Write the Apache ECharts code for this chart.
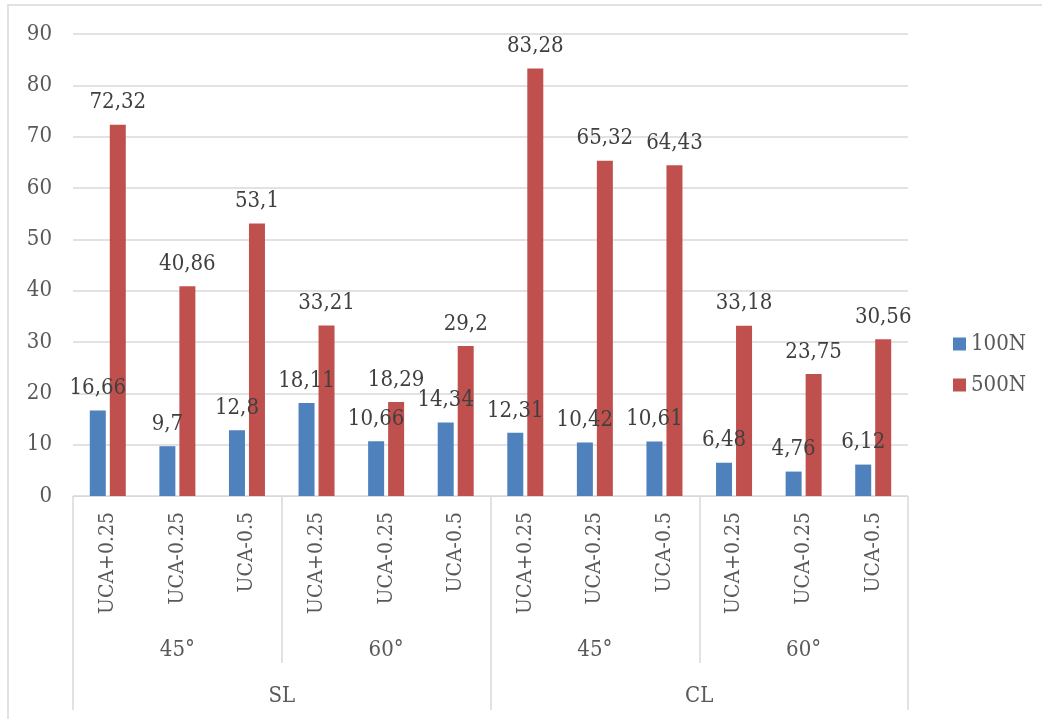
<!DOCTYPE html>
<html>
<head>
<meta charset="utf-8">
<script src="https://cdn.jsdelivr.net/npm/echarts@6/dist/echarts.min.js"></script>
<style>
  html, body { margin: 0; padding: 0; background: #fff; }
  #chart { width: 1042px; height: 719px; }
</style>
</head>
<body>
<div id="chart"></div>
<script>
// Sub-categories (innermost level of the x axis)
const cases = ['UCA+0.25', 'UCA-0.25', 'UCA-0.5', 'UCA+0.25', 'UCA-0.25', 'UCA-0.5',
               'UCA+0.25', 'UCA-0.25', 'UCA-0.5', 'UCA+0.25', 'UCA-0.25', 'UCA-0.5'];
// Middle level: angle groups
const angles = ['45°', '60°', '45°', '60°'];
// Outer level: SL / CL
const layers = ['SL', 'CL'];

const seriesNames = ['100N', '500N'];
const load100 = [16.66, 9.7, 12.8, 18.11, 10.66, 14.34, 12.31, 10.42, 10.61, 6.48, 4.76, 6.12];
const load500 = [72.32, 40.86, 53.1, 33.21, 18.29, 29.2, 83.28, 65.32, 64.43, 33.18, 23.75, 30.56];

const yTicks = { min: 0, max: 90, interval: 10 };

const FONT = '"DejaVu Serif Condensed", "Liberation Serif", serif';
const FS = 22;      // numbers, legend, group names
const FS_CAT = 21;  // rotated case names
const axisGray = '#d9d9d9';
const textGray = '#595959';

const chart = echarts.init(document.getElementById('chart'), null, { renderer: 'canvas' });

const labelCfg = {
  show: true,
  position: 'top',
  distance: 11,
  fontFamily: FONT,
  fontSize: FS,
  color: '#404040',
  formatter: p => String(p.value).replace('.', ',')
};

chart.setOption({
  animation: false,
  backgroundColor: '#fff',
  graphic: [{
    type: 'rect',
    shape: { x: 8, y: 5, width: 1040, height: 720 },
    style: { fill: 'none', stroke: axisGray, lineWidth: 1.5 },
    silent: true
  }],
  grid: { left: 73, right: 134, top: 34, bottom: 223 },
  legend: {
    orient: 'vertical',
    left: 948,
    top: 328,
    itemWidth: 13,
    itemHeight: 13,
    itemGap: 19,
    icon: 'rect',
    textStyle: { fontFamily: FONT, fontSize: FS, color: textGray },
    data: seriesNames
  },
  xAxis: [
    {
      type: 'category',
      data: cases,
      axisLine: { show: true, lineStyle: { color: axisGray, width: 1 } },
      axisTick: { show: false },
      axisLabel: {
        rotate: 90,
        margin: 16,
        interval: 0,
        fontFamily: FONT,
        fontSize: FS_CAT,
        color: textGray
      }
    },
    {
      type: 'category',
      data: angles,
      position: 'bottom',
      axisLine: { show: false },
      axisTick: { show: true, length: 167, lineStyle: { color: axisGray, width: 1.5 } },
      axisLabel: { margin: 143, interval: 0, fontFamily: FONT, fontSize: FS, color: textGray },
      splitLine: { show: false }
    },
    {
      type: 'category',
      data: layers,
      position: 'bottom',
      axisLine: { show: false },
      axisTick: { show: true, length: 214, lineStyle: { color: axisGray, width: 1.5 } },
      axisLabel: { margin: 189, interval: 0, fontFamily: FONT, fontSize: FS, color: textGray },
      splitLine: { show: false }
    }
  ],
  yAxis: {
    type: 'value',
    min: yTicks.min,
    max: yTicks.max,
    interval: yTicks.interval,
    axisLine: { show: false },
    axisTick: { show: false },
    axisLabel: { margin: 21, fontFamily: FONT, fontSize: FS, color: textGray },
    splitLine: { lineStyle: { color: axisGray, width: 1.5 } }
  },
  series: [
    {
      name: seriesNames[0],
      type: 'bar',
      data: load100,
      barWidth: 16,
      barGap: '25%',
      itemStyle: { color: '#4F81BD' },
      label: labelCfg
    },
    {
      name: seriesNames[1],
      type: 'bar',
      data: load500,
      barWidth: 16,
      barGap: '25%',
      itemStyle: { color: '#C0504D' },
      label: labelCfg
    }
  ]
});
</script>
</body>
</html>
